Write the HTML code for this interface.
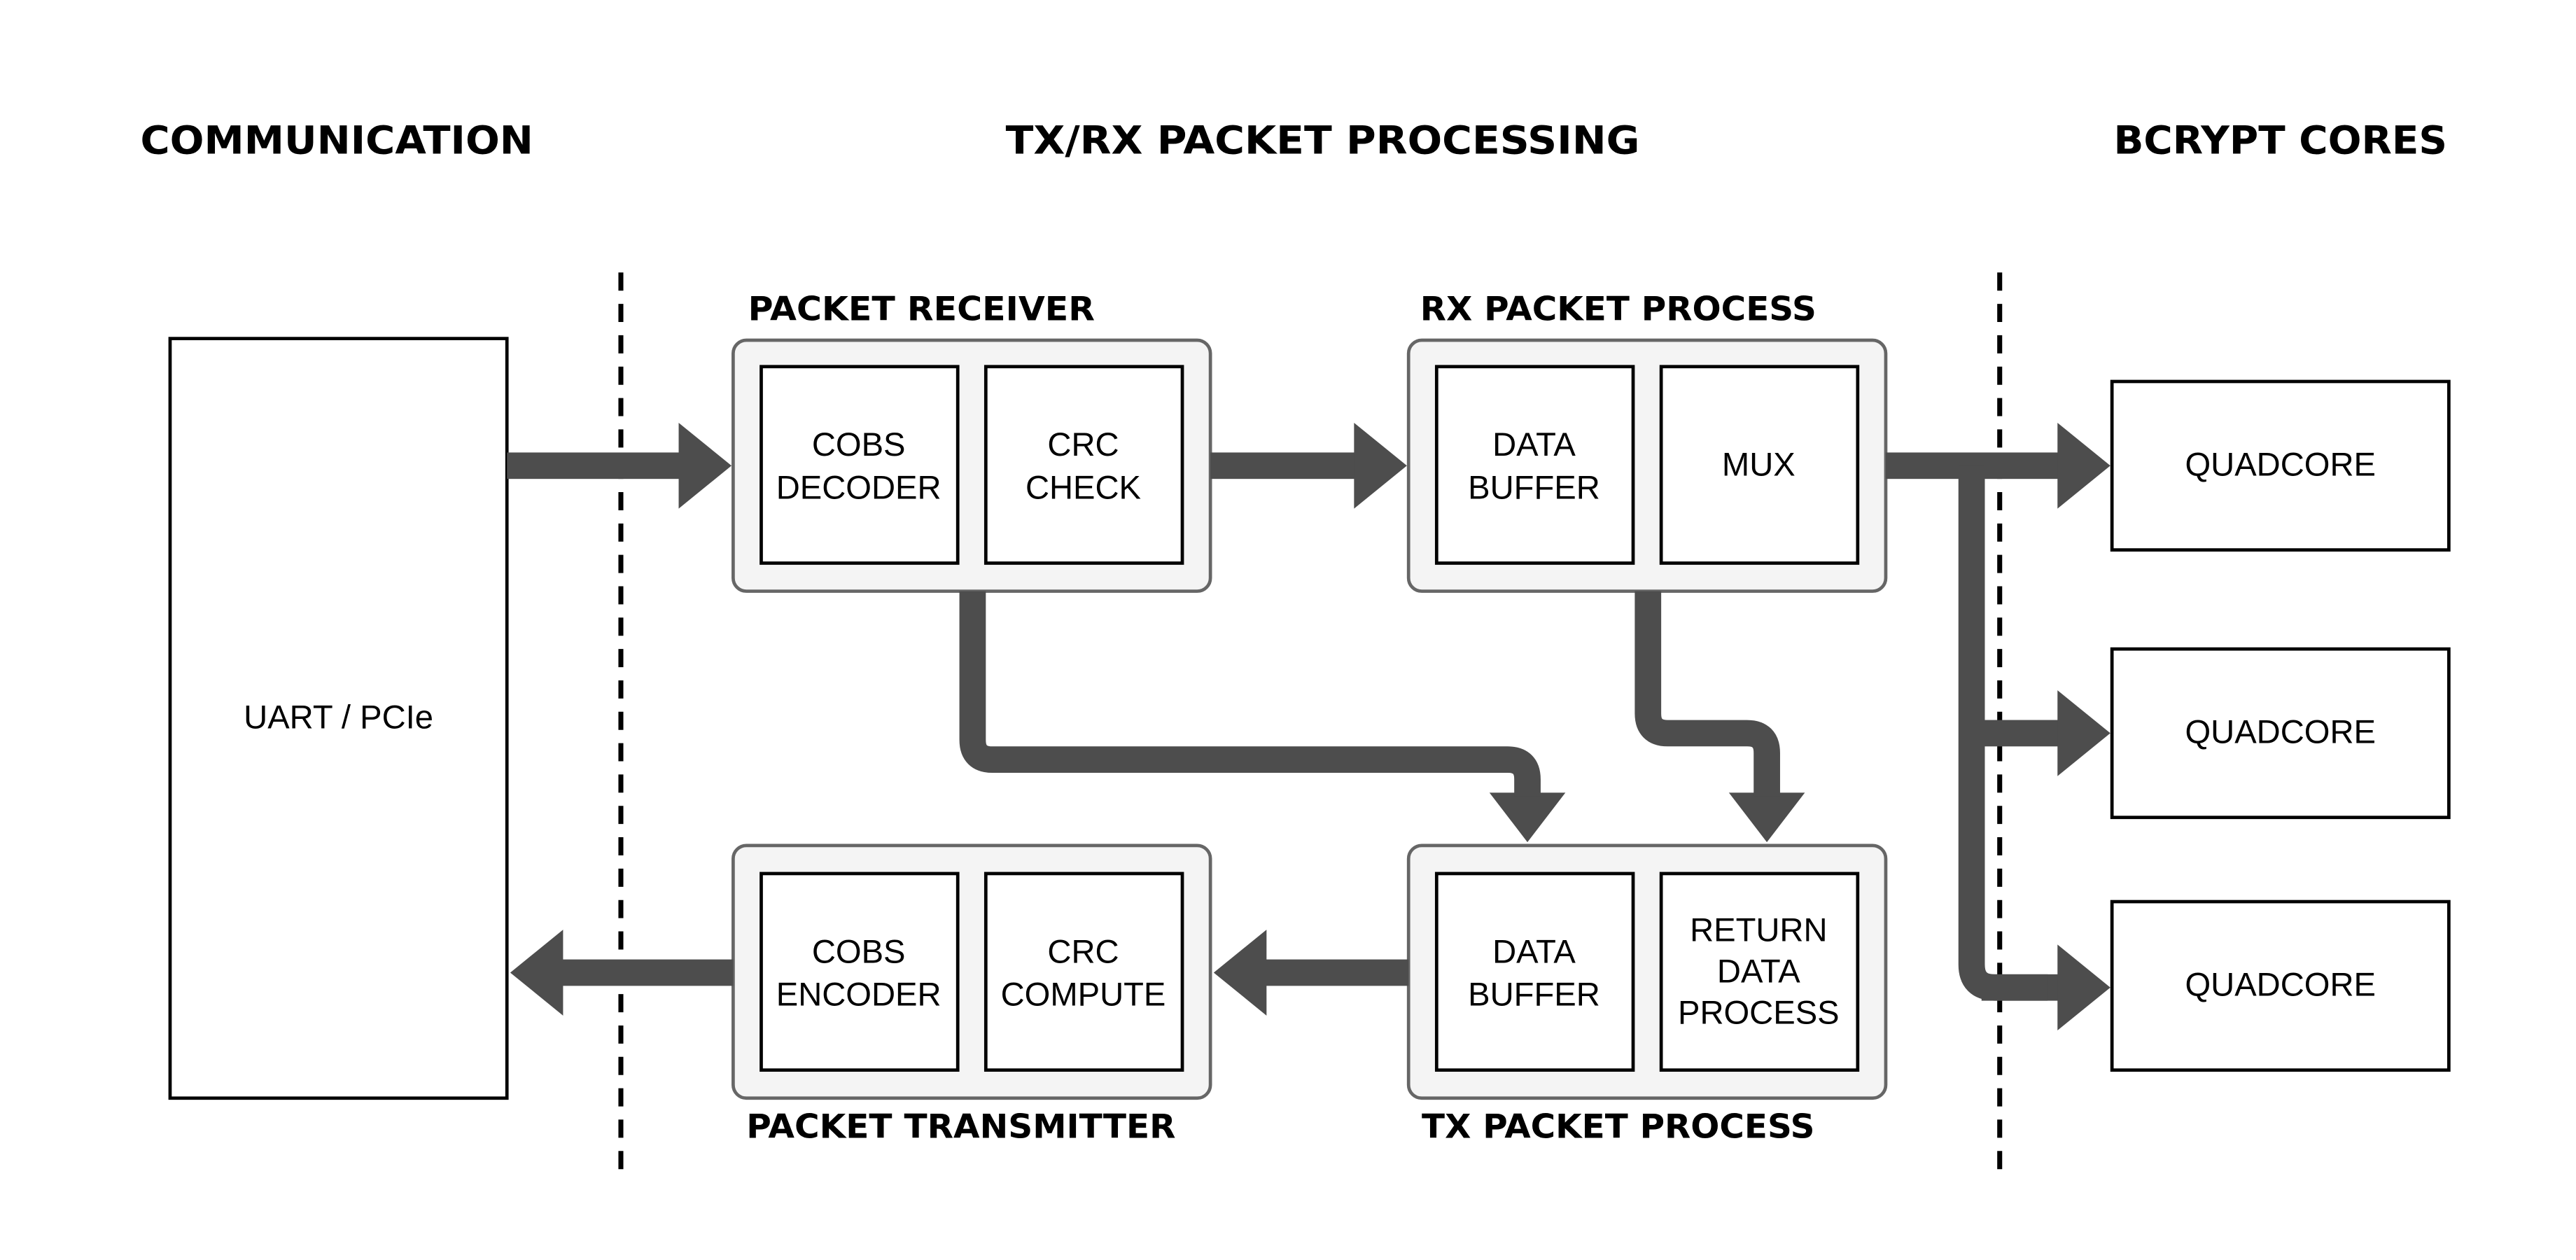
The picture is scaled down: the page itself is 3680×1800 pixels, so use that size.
<!DOCTYPE html>
<html><head><meta charset="utf-8"><style>
html,body{margin:0;padding:0;background:#fff;}
svg{display:block;}
.t{font-family:"DejaVu Sans","Liberation Sans",sans-serif;font-weight:bold;fill:#000;}
.n{font-family:"Liberation Sans",Arial,sans-serif;font-size:20px;fill:#000;text-anchor:middle;}
</style></head><body>
<svg width="3680" height="1800" viewBox="0 0 1560 763" xmlns="http://www.w3.org/2000/svg">
<rect width="1560" height="763" fill="#fff"/>
<text class="t" x="85" y="93" font-size="23.5" textLength="238" lengthAdjust="spacingAndGlyphs">COMMUNICATION</text>
<text class="t" x="609" y="93" font-size="23.5" textLength="384" lengthAdjust="spacingAndGlyphs">TX/RX PACKET PROCESSING</text>
<text class="t" x="1280" y="93" font-size="23.5" textLength="202" lengthAdjust="spacingAndGlyphs">BCRYPT CORES</text>

<line x1="376" y1="165" x2="376" y2="710" stroke="#000" stroke-width="3" stroke-dasharray="11,8"/>
<line x1="1211" y1="165" x2="1211" y2="710" stroke="#000" stroke-width="3" stroke-dasharray="11,8"/>

<rect x="103" y="205" width="204" height="460" fill="#fff" stroke="#000" stroke-width="2"/>
<text class="n" x="205" y="441">UART / PCIe</text>

<g fill="#f4f4f4" stroke="#666" stroke-width="2">
<rect x="444" y="206" width="289" height="152" rx="8"/>
<rect x="853" y="206" width="289" height="152" rx="8"/>
<rect x="444" y="512" width="289" height="153" rx="8"/>
<rect x="853" y="512" width="289" height="153" rx="8"/>
</g>
<g fill="#fff" stroke="#000" stroke-width="2">
<rect x="461" y="222" width="119" height="119"/>
<rect x="597" y="222" width="119" height="119"/>
<rect x="870" y="222" width="119" height="119"/>
<rect x="1006" y="222" width="119" height="119"/>
<rect x="461" y="529" width="119" height="119"/>
<rect x="597" y="529" width="119" height="119"/>
<rect x="870" y="529" width="119" height="119"/>
<rect x="1006" y="529" width="119" height="119"/>
<rect x="1279" y="231" width="204" height="102"/>
<rect x="1279" y="393" width="204" height="102"/>
<rect x="1279" y="546" width="204" height="102"/>
</g>

<text class="t" x="453" y="194" font-size="20" textLength="210" lengthAdjust="spacingAndGlyphs">PACKET RECEIVER</text>
<text class="t" x="860" y="194" font-size="20" textLength="240" lengthAdjust="spacingAndGlyphs">RX PACKET PROCESS</text>
<text class="t" x="452" y="689" font-size="20" textLength="260" lengthAdjust="spacingAndGlyphs">PACKET TRANSMITTER</text>
<text class="t" x="861" y="689" font-size="20" textLength="238" lengthAdjust="spacingAndGlyphs">TX PACKET PROCESS</text>

<text class="n" x="520" y="276">COBS</text><text class="n" x="520" y="302">DECODER</text>
<text class="n" x="656" y="276">CRC</text><text class="n" x="656" y="302">CHECK</text>
<text class="n" x="929" y="276">DATA</text><text class="n" x="929" y="302">BUFFER</text>
<text class="n" x="1065" y="288">MUX</text>
<text class="n" x="520" y="583">COBS</text><text class="n" x="520" y="609">ENCODER</text>
<text class="n" x="656" y="583">CRC</text><text class="n" x="656" y="609">COMPUTE</text>
<text class="n" x="929" y="583">DATA</text><text class="n" x="929" y="609">BUFFER</text>
<text class="n" x="1065" y="570">RETURN</text><text class="n" x="1065" y="595">DATA</text><text class="n" x="1065" y="620">PROCESS</text>
<text class="n" x="1381" y="288">QUADCORE</text>
<text class="n" x="1381" y="450">QUADCORE</text>
<text class="n" x="1381" y="603">QUADCORE</text>

<g fill="#4d4d4d">
<rect x="307" y="274" width="106" height="16"/><polygon points="411,256 443,282 411,308"/>
<rect x="733" y="274" width="89" height="16"/><polygon points="820,256 852,282 820,308"/>
<rect x="1142" y="274" width="106" height="16"/><polygon points="1246,256 1278,282 1246,308"/>
<rect x="1194" y="436" width="54" height="16"/><polygon points="1246,418 1278,444 1246,470"/>
<rect x="1200" y="590" width="48" height="16"/><polygon points="1246,572 1278,598 1246,624"/>
<rect x="765" y="581" width="88" height="16"/><polygon points="767,563 735,589 767,615"/>
<rect x="339" y="581" width="105" height="16"/><polygon points="341,563 309,589 341,615"/>
<polygon points="902,480 948,480 925,510"/>
<polygon points="1047,480 1093,480 1070,510"/>
</g>
<g fill="none" stroke="#4d4d4d" stroke-width="16">
<path d="M1194,282 L1194,584 Q1194,598 1208,598 L1240,598"/>
<path d="M589,358 L589,448 Q589,460 601,460 L913,460 Q925,460 925,472 L925,482"/>
<path d="M998,358 L998,432 Q998,444 1010,444 L1058,444 Q1070,444 1070,456 L1070,482"/>
</g>
</svg>
</body></html>
